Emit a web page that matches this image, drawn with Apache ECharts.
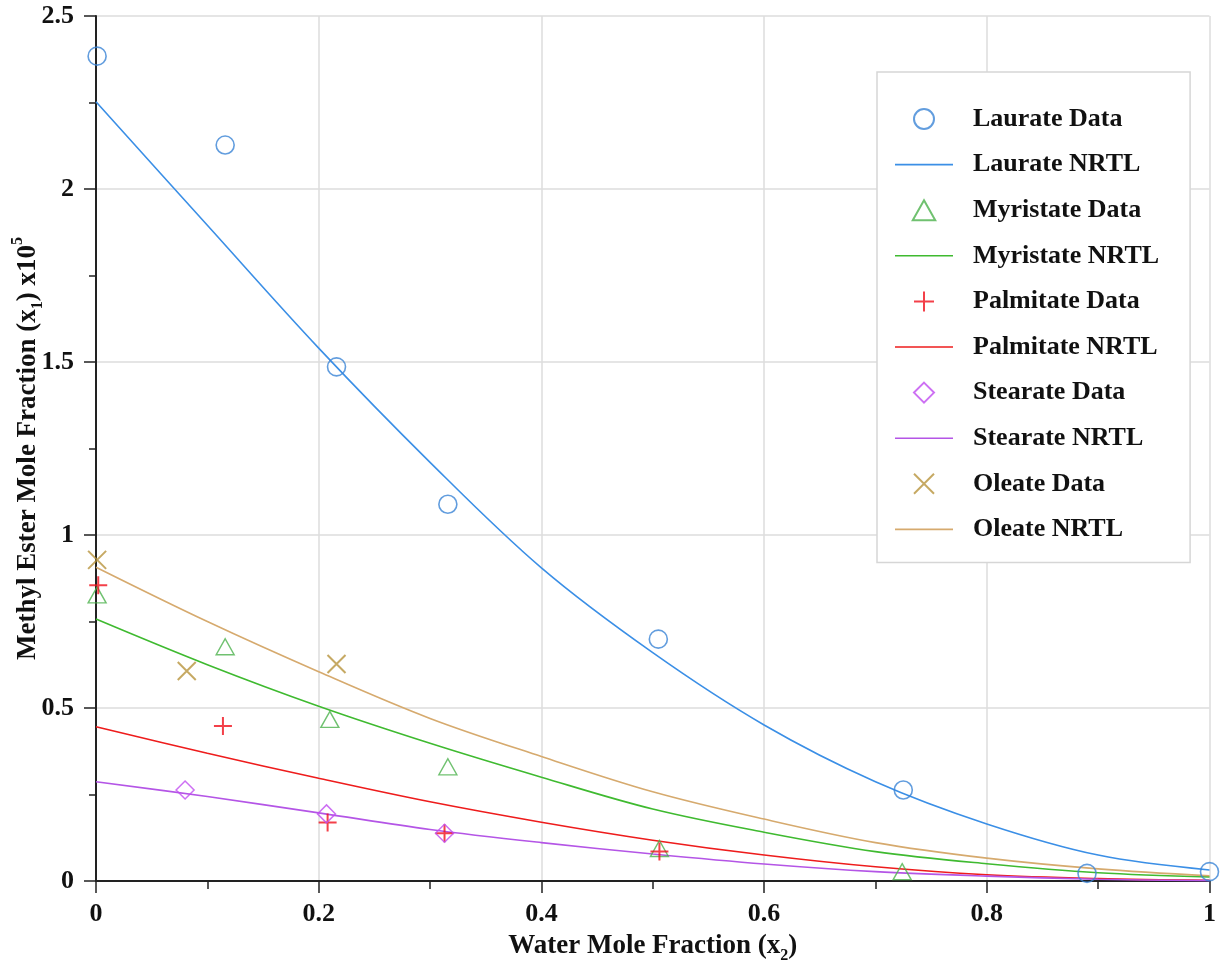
<!DOCTYPE html>
<html>
<head>
<meta charset="utf-8">
<script src="https://cdn.jsdelivr.net/npm/echarts@6/dist/echarts.min.js"></script>
<style>
  html, body { margin: 0; padding: 0; background: #fff; }
  #chart { width: 1225px; height: 967px; }
</style>
</head>
<body>
<div id="chart"></div>
<script>
// measured points
const laurateX = [0.001, 0.116, 0.216, 0.316, 0.505, 0.725, 0.890, 1.0];
const laurateY = [2.384, 2.127, 1.486, 1.089, 0.699, 0.263, 0.022, 0.027];
const myristateX = [0.001, 0.116, 0.210, 0.316, 0.506, 0.724];
const myristateY = [0.827, 0.677, 0.467, 0.330, 0.094, 0.027];
const palmitateX = [0.002, 0.114, 0.208, 0.313, 0.506];
const palmitateY = [0.855, 0.448, 0.169, 0.138, 0.085];
const stearateX = [0.080, 0.207, 0.313];
const stearateY = [0.263, 0.194, 0.138];
const oleateX = [0.001, 0.0815, 0.216];
const oleateY = [0.928, 0.607, 0.627];

// NRTL model curves
const nrtlX = [0, 0.1, 0.2, 0.3, 0.4, 0.5, 0.6, 0.7, 0.8, 0.9, 1.0];
const laurateNrtl = [2.252, 1.895, 1.54, 1.21, 0.905, 0.66, 0.451, 0.287, 0.165, 0.075, 0.032];
const myristateNrtl = [0.757, 0.625, 0.505, 0.398, 0.30, 0.208, 0.141, 0.085, 0.05, 0.024, 0.012];
const palmitateNrtl = [0.446, 0.369, 0.297, 0.229, 0.17, 0.118, 0.075, 0.041, 0.018, 0.007, 0.002];
const stearateNrtl = [0.287, 0.244, 0.197, 0.149, 0.111, 0.078, 0.049, 0.027, 0.014, 0.005, 0.001];
const oleateNrtl = [0.907, 0.75, 0.605, 0.47, 0.36, 0.258, 0.179, 0.111, 0.066, 0.035, 0.015];

const FONT = 'Liberation Serif';

const SYM_TRI = 'path://M9,0L18,16L0,16Z';
const SYM_DIAMOND = 'path://M9,0L18,9L9,18L0,9Z';
const SYM_PLUS = 'path://M0,9L18,9M9,0L9,18';
const SYM_CROSS = 'path://M0,0L18,18M18,0L0,18';
const ICON_LINE = 'path://M0,0L58,0L58,1.6L0,1.6Z';

const zip = (xs, ys) => xs.map((x, i) => [x, ys[i]]);

function dataSeries(name, xs, ys, symbol, size, color, width) {
  return {
    name, type: 'scatter', data: zip(xs, ys), symbol, symbolSize: size,
    itemStyle: {color: 'rgba(0,0,0,0)', borderColor: color, borderWidth: width},
    z: 3
  };
}
function modelSeries(name, ys, color) {
  return {
    name, type: 'line', data: zip(nrtlX, ys), symbol: 'none', smooth: 0.35,
    lineStyle: {color, width: 1.6}, itemStyle: {color}, z: 2
  };
}

const series = [
  dataSeries('Laurate Data', laurateX, laurateY, 'circle', 18, '#3b84d6', 1.6),
  modelSeries('Laurate NRTL', laurateNrtl, '#3b8fe6'),
  dataSeries('Myristate Data', myristateX, myristateY, SYM_TRI, [18, 16], '#4cb14c', 1.4),
  modelSeries('Myristate NRTL', myristateNrtl, '#3fba30'),
  dataSeries('Palmitate Data', palmitateX, palmitateY, SYM_PLUS, 18, '#f0101c', 2),
  modelSeries('Palmitate NRTL', palmitateNrtl, '#ee1c1c'),
  dataSeries('Stearate Data', stearateX, stearateY, SYM_DIAMOND, 18, '#c04cf0', 1.5),
  modelSeries('Stearate NRTL', stearateNrtl, '#b455e6'),
  dataSeries('Oleate Data', oleateX, oleateY, SYM_CROSS, 18, '#b8943c', 2),
  modelSeries('Oleate NRTL', oleateNrtl, '#d6aa6e')
];

const richSub = {
  sub: {fontFamily: FONT, fontWeight: 'bold', fontSize: 16, color: '#111', verticalAlign: 'bottom', lineHeight: 16},
  sup: {fontFamily: FONT, fontWeight: 'bold', fontSize: 16, color: '#111', verticalAlign: 'top', lineHeight: 16}
};

const chart = echarts.init(document.getElementById('chart'));
chart.setOption({
  animation: false,
  backgroundColor: '#fff',
  grid: {left: 96, right: 15.5, top: 16, bottom: 86, containLabel: false, outerBoundsMode: 'none'},
  legend: {
    orient: 'vertical',
    left: 877, top: 72,
    padding: [34, 31, 20, 18],
    itemGap: 19.6,
    itemWidth: 58,
    itemHeight: 20,
    backgroundColor: '#fff',
    borderColor: '#d6d6d6',
    borderWidth: 1.5,
    textStyle: {fontFamily: FONT, fontWeight: 'bold', fontSize: 26, color: '#111', padding: [0, 0, 0, 15]},
    data: series.map(s => s.type === 'line' ? {name: s.name, icon: ICON_LINE} : {name: s.name})
  },
  xAxis: {
    type: 'value', min: 0, max: 1, interval: 0.2,
    name: 'Water Mole Fraction (x{sub|2})',
    nameLocation: 'middle', nameGap: 47, nameMoveOverlap: false,
    nameTextStyle: {fontFamily: FONT, fontWeight: 'bold', fontSize: 27, color: '#111', lineHeight: 36, rich: richSub},
    axisLine: {lineStyle: {color: '#222', width: 2}},
    axisTick: {length: 12, lineStyle: {color: '#222', width: 1.5}},
    minorTick: {show: true, splitNumber: 2, length: 8, lineStyle: {color: '#222', width: 1.5}},
    axisLabel: {fontFamily: FONT, fontWeight: 'bold', fontSize: 26, color: '#111', margin: 20},
    splitLine: {show: true, lineStyle: {color: '#dcdcdc', width: 1.5}}
  },
  yAxis: {
    type: 'value', min: 0, max: 2.5, interval: 0.5,
    name: 'Methyl Ester Mole Fraction (x{sub|1}) x10{sup|5}',
    nameLocation: 'middle', nameGap: 50, nameMoveOverlap: false,
    nameTextStyle: {fontFamily: FONT, fontWeight: 'bold', fontSize: 27, color: '#111', lineHeight: 36, rich: richSub},
    axisLine: {show: true, lineStyle: {color: '#222', width: 2}},
    axisTick: {show: true, length: 12, lineStyle: {color: '#222', width: 1.5}},
    minorTick: {show: true, splitNumber: 2, length: 7, lineStyle: {color: '#222', width: 1.5}},
    axisLabel: {fontFamily: FONT, fontWeight: 'bold', fontSize: 26, color: '#111', margin: 22},
    splitLine: {show: true, lineStyle: {color: '#dcdcdc', width: 1.5}}
  },
  series
});
</script>
</body>
</html>
